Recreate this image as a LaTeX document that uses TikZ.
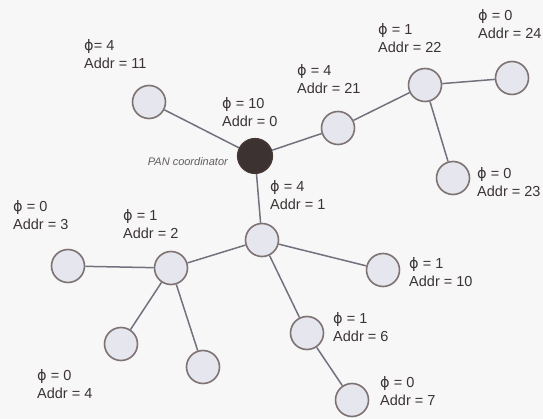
\documentclass[tikz,border=0pt]{standalone}
\usepackage{fontspec}
\setmainfont{Liberation Sans}
\newfontfamily\dvfont{DejaVu Sans}
\newcommand{\myphi}{{\dvfont ϕ}}
\begin{document}
\begin{tikzpicture}[x=1pt,y=-1pt,
  dev/.style={circle,draw=nodeborder,line width=1.6pt,fill=nodefill,minimum size=33pt,inner sep=0pt},
  coord/.style={circle,draw=coordborder,line width=1.2pt,fill=coordfill,minimum size=35pt,inner sep=0pt},
  link/.style={draw=linkcol,line width=1.5pt},
  lbl/.style={anchor=west,align=left,inner sep=0pt,text=txtcol,font=\fontsize{14.5}{18}\selectfont},
  pan/.style={anchor=east,inner sep=0pt,text=txtcol!80,font=\fontsize{11}{12}\selectfont\itshape}]
\definecolor{nodefill}{HTML}{E6E6EE}
\definecolor{nodeborder}{HTML}{7E7272}
\definecolor{coordfill}{HTML}{3C3232}
\definecolor{coordborder}{HTML}{4A3A36}
\definecolor{linkcol}{HTML}{72727E}
\definecolor{txtcol}{HTML}{3C3434}
\fill[white!97!black] (0,0) rectangle (543,419);
\useasboundingbox (0,0) rectangle (543,419);
% nodes
\node[dev] (n11) at (149,102) {};
\node[dev] (n21) at (338,128) {};
\node[dev] (n22) at (425,85) {};
\node[dev] (n24) at (512,78) {};
\node[dev] (n23) at (453,178) {};
\node[dev] (n1) at (262,240) {};
\node[dev] (n2) at (171,268) {};
\node[dev] (n3) at (68,266) {};
\node[dev] (n4) at (121,344) {};
\node[dev] (n5) at (203,367) {};
\node[dev] (n10) at (383,270) {};
\node[dev] (n6) at (307,333) {};
\node[dev] (n7) at (352,400) {};
\node[coord] (c0) at (255,156) {};
% links
\path[link] (c0) -- (n11);
\path[link] (c0) -- (n21);
\path[link] (n21) -- (n22);
\path[link] (n22) -- (n24);
\path[link] (n22) -- (n23);
\path[link] (c0) -- (n1);
\path[link] (n1) -- (n2);
\path[link] (n2) -- (n3);
\path[link] (n2) -- (n4);
\path[link] (n2) -- (n5);
\path[link] (n1) -- (n10);
\path[link] (n1) -- (n6);
\path[link] (n6) -- (n7);
% labels
\node[lbl] (l11) at (84,54) {\myphi= 4\\Addr = 11};
\node[lbl] (l0) at (222,112.5) {\myphi{} = 10\\Addr = 0};
\node[lbl] (l21) at (297,79) {\myphi{} = 4\\Addr = 21};
\node[lbl] (l22) at (378,38) {\myphi{} = 1\\Addr = 22};
\node[lbl] (l24) at (478,24) {\myphi{} = 0\\Addr = 24};
\node[lbl] (l23) at (477,182) {\myphi{} = 0\\Addr = 23};
\node[lbl] (l1) at (270,195.5) {\myphi{} = 4\\Addr = 1};
\node[lbl] (l3) at (13,215) {\myphi{} = 0\\Addr = 3};
\node[lbl] (l2) at (123,224) {\myphi{} = 1\\Addr = 2};
\node[lbl] (l4) at (37,384.5) {\myphi{} = 0\\Addr = 4};
\node[lbl] (l10) at (409,272.5) {\myphi{} = 1\\Addr = 10};
\node[lbl] (l6) at (333,327.5) {\myphi{} = 1\\Addr = 6};
\node[lbl] (l7) at (380,391) {\myphi{} = 0\\Addr = 7};
\node[pan] (pan) at (228,162) {PAN coordinator};
\end{tikzpicture}
\end{document}
